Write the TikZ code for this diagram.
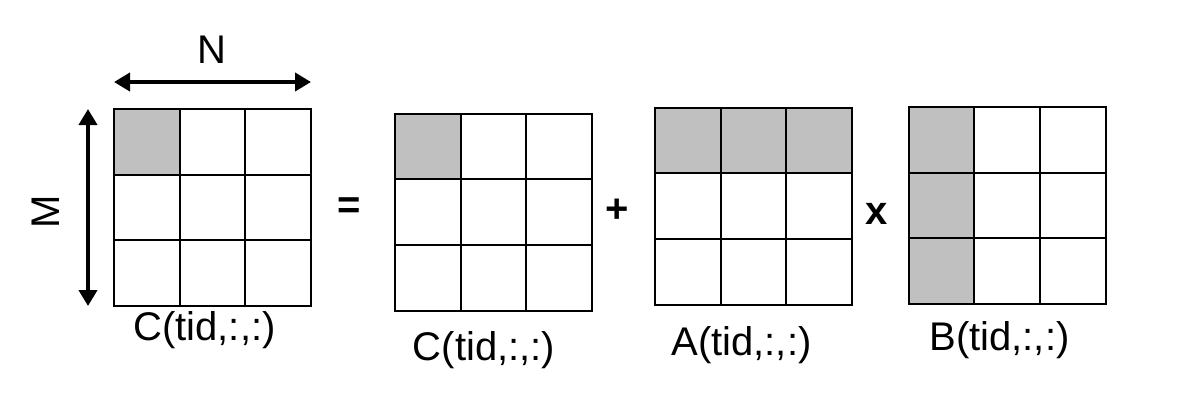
\documentclass[tikz,border=0pt]{standalone}
\usepackage{fontspec}
\setmainfont{Liberation Sans}
\usetikzlibrary{arrows.meta,calc}
\definecolor{cellgray}{RGB}{192,192,192}
\begin{document}
\begin{tikzpicture}[x=0.5pt,y=-0.5pt,
  matbox/.style={rectangle,minimum width=98.5pt,minimum height=98.5pt,inner sep=0pt,outer sep=0pt},
  gridline/.style={draw=black,line width=1pt},
  shade/.style={fill=cellgray},
  dimarrow/.style={line width=2.2pt,{Triangle[length=8pt,width=9pt]}-{Triangle[length=8pt,width=9pt]}},
  lbl/.style={font=\fontsize{20}{24}\selectfont,inner sep=0pt},
  oplbl/.style={font=\fontsize{20}{24}\selectfont\bfseries,inner sep=0pt}]
\useasboundingbox (0,0) rectangle (1188,414);
\fill[white] (0,0) rectangle (1188,414);
\newcommand\mymat[4]{%
  \node[matbox] (#1) at (#2,#3) {};
  #4
  \draw[gridline] (#1.north west) rectangle (#1.south east);
  \draw[gridline] ($(#1.north west)!1/3!(#1.north east)$) -- ($(#1.south west)!1/3!(#1.south east)$);
  \draw[gridline] ($(#1.north west)!2/3!(#1.north east)$) -- ($(#1.south west)!2/3!(#1.south east)$);
  \draw[gridline] ($(#1.north west)!1/3!(#1.south west)$) -- ($(#1.north east)!1/3!(#1.south east)$);
  \draw[gridline] ($(#1.north west)!2/3!(#1.south west)$) -- ($(#1.north east)!2/3!(#1.south east)$);
}
% result C
\mymat{m1}{212.5}{207.5}{\fill[shade] (m1.north west) rectangle ($(m1.north west)!1/3!(m1.south east)$);}
% C
\mymat{m2}{493.5}{212}{\fill[shade] (m2.north west) rectangle ($(m2.north west)!1/3!(m2.south east)$);}
% A
\mymat{m3}{753.5}{206}{\fill[shade] (m3.north west) rectangle ($(m3.north east)!1/3!(m3.south east)$);}
% B
\mymat{m4}{1007}{205.5}{\fill[shade] (m4.north west) rectangle ($(m4.south west)!1/3!(m4.south east)$);}

% dimension arrows
\coordinate (hl) at ($(m1.north west)+(0,-27)$);
\coordinate (hr) at ($(m1.north east)+(0,-27)$);
\coordinate (vt) at ($(m1.north west)+(-26,0)$);
\coordinate (vb) at ($(m1.south west)+(-26,0)$);
\draw[dimarrow] (hl) -- (hr);
\draw[dimarrow] (vt) -- (vb);
\node[lbl] (nlab) at (212,50) {N};
\node[lbl,rotate=90] (mlab) at (46,212) {M};

% operators
\node[oplbl] (eq) at (349,208) {=};
\node[oplbl] (plus) at (617,211) {+};
\node[oplbl] (times) at (877,214) {x};

% labels
\node[lbl] (l1) at (204.5,330) {C(tid,:,:)};
\node[lbl] (l2) at (484,350) {C(tid,:,:)};
\node[lbl] (l3) at (741.5,345) {A(tid,:,:)};
\node[lbl] (l4) at (999.5,340) {B(tid,:,:)};
\end{tikzpicture}
\end{document}
